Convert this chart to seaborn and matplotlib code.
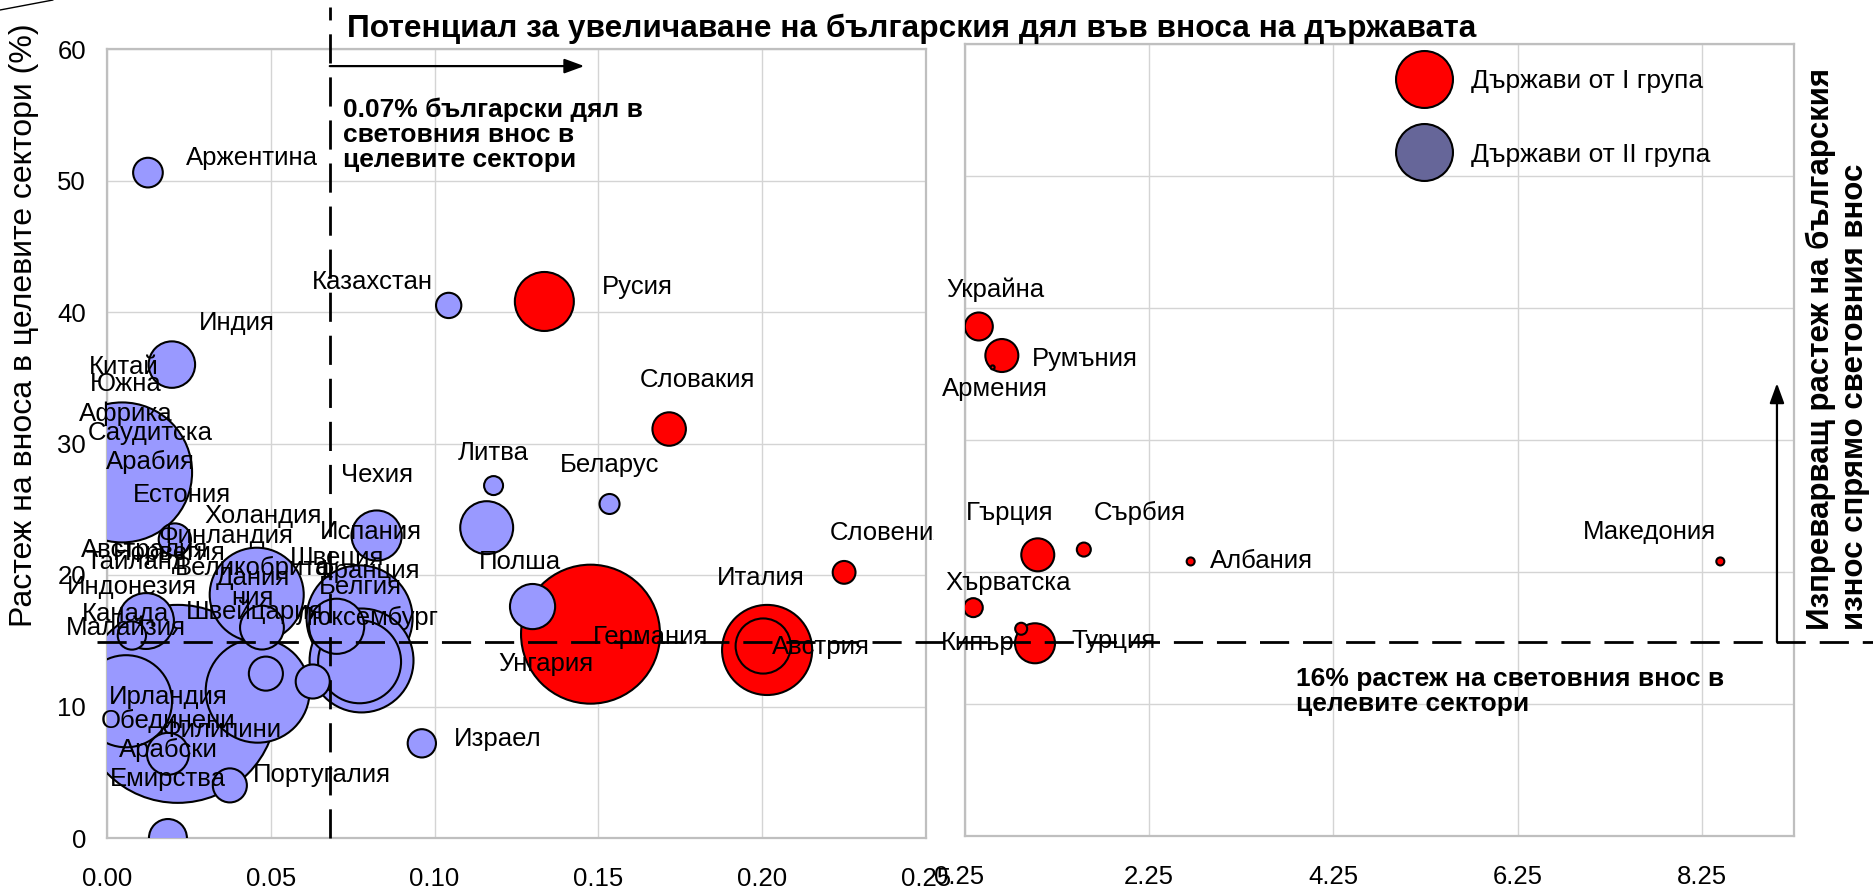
import matplotlib
matplotlib.use("Agg")
import matplotlib.pyplot as plt
from matplotlib.lines import Line2D
from matplotlib.transforms import (blended_transform_factory, Bbox, TransformedBbox,
                                   ScaledTranslation)
import pandas as pd
import seaborn as sns

# --- data: left panel (Bulgarian share 0-0.25 %) ---
left_names = ["Аржентина", "Казахстан", "Индия", "Саудитска Арабия", "Финландия",
              "Великобритания", "Канада", "Малайзия", "Швейцария",
              "Обединени Арабски Емирства", "Ирландия", "Филипини", "Португалия",
              "Южна Африка", "Холандия", "Дания", "Естония", "Белгия", "Франция",
              "Швеция", "Люксембург", "Испания", "Полша", "Литва", "Беларус",
              "Унгария", "Израел",
              "Русия", "Словакия", "Словения", "Германия", "Италия", "Австрия"]
left_share = [0.0125, 0.1043, 0.0198, 0.0046, 0.0207,
              0.0457, 0.0119, 0.0076, 0.0473,
              0.0216, 0.0058, 0.0186, 0.0375,
              0.0186, 0.0460, 0.0485, 0.0628, 0.0771, 0.0777,
              0.0771, 0.0701, 0.0823, 0.1159, 0.1180, 0.1534,
              0.1299, 0.0961,
              0.1335, 0.1716, 0.2250, 0.1476, 0.2015, 0.2003]
left_growth = [50.6, 40.5, 36.0, 27.8, 22.7,
               18.5, 16.5, 15.4, 16.0,
               10.2, 10.4, 6.4, 4.0,
               0.0, 11.2, 12.5, 11.9, 16.7, 13.5,
               13.4, 16.1, 23.0, 23.6, 26.8, 25.4,
               17.6, 7.2,
               40.8, 31.1, 20.2, 15.5, 14.3, 14.6]
left_volume = [2.2, 1.6, 5.4, 49.0, 2.6,
               22.1, 7.8, 2.0, 4.8,
               98.0, 21.2, 4.4, 2.9,
               3.6, 27.0, 2.9, 2.9, 28.1, 27.0,
               17.2, 7.6, 6.3, 7.0, 0.9, 1.0,
               5.1, 2.0,
               8.7, 2.8, 1.3, 48.3, 20.3, 7.6]
left_group = ["II"] * 27 + ["I"] * 6

# --- data: right panel (Bulgarian share above 0.25 %) ---
right_names = ["Украйна", "Румъния", "Армения", "Гърция", "Сърбия",
               "Албания", "Македония", "Хърватска", "Турция", "Кипър"]
right_share = [0.40, 0.65, 0.55, 1.04, 1.54, 2.70, 8.45, 0.34, 1.01, 0.86]
right_growth = [38.6, 36.4, 35.5, 21.3, 21.7, 20.8, 20.8, 17.3, 14.6, 15.7]
right_volume = [1.96, 2.72, 0.04, 2.72, 0.49, 0.16, 0.16, 0.90, 4.00, 0.36]
right_group = ["I"] * 10

world_share = 0.068
world_growth = 14.9

left_xticks = [0.00, 0.05, 0.10, 0.15, 0.20, 0.25]
right_xticks = [0.25, 2.25, 4.25, 6.25, 8.25]
yticks = [0, 10, 20, 30, 40, 50, 60]

# label anchors (layout only)
left_labels = [
    ("Аржентина", 0.0442, 51.7), ("Казахстан", 0.0811, 42.3), ("Русия", 0.1619, 41.9),
    ("Индия", 0.0396, 39.2), ("Китай", 0.0052, 35.8), ("Южна\nАфрика", 0.0058, 33.4),
    ("Саудитска\nАрабия", 0.0131, 29.7), ("Естония", 0.0229, 26.1),
    ("Холандия", 0.0476, 24.5), ("Финландия", 0.0363, 23.0),
    ("Австралия", 0.0116, 21.9), ("Норвегия", 0.0189, 21.7), ("Тайланд", 0.0091, 21.0),
    ("Великобрита\nния", 0.0445, 19.4), ("Дания", 0.0445, 19.8), ("Швеция", 0.0701, 21.3),
    ("Франция", 0.0793, 20.3), ("Белгия", 0.0774, 19.1), ("Индонезия", 0.0076, 19.1),
    ("Швейцария", 0.0451, 17.2), ("Люксембург", 0.0793, 16.7), ("Канада", 0.0055, 17.0),
    ("Малайзия", 0.0058, 16.0), ("Ирландия", 0.0186, 10.7),
    ("Обединени\nАрабски\nЕмирства", 0.0186, 6.7), ("Филипини", 0.0351, 8.2),
    ("Португалия", 0.0655, 4.8), ("Израел", 0.1192, 7.5), ("Чехия", 0.0823, 27.6),
    ("Испания", 0.0805, 23.3), ("Литва", 0.1180, 29.3), ("Беларус", 0.1534, 28.4),
    ("Полша", 0.1259, 21.0), ("Словакия", 0.1802, 34.8), ("Италия", 0.1997, 19.8),
    ("Германия", 0.1659, 15.3), ("Унгария", 0.1341, 13.2), ("Австрия", 0.2180, 14.5),
]
right_labels = [
    ("Украйна", 0.576, 41.4), ("Румъния", 1.554, 36.1), ("Армения", 0.576, 33.9),
    ("Гърция", 0.739, 24.5), ("Сърбия", 2.152, 24.5), ("Албания", 3.467, 20.8),
    ("Македония", 7.685, 23.0), ("Хърватска", 0.717, 19.2), ("Турция", 1.859, 14.8),
    ("Кипър", 0.391, 14.6),
]

PALETTE = {"I": "#ff0000", "II": "#9999ff"}
AREA_PER_UNIT = 207.36  # pt^2 per volume unit
GRID = "#d4d4d4"
EDGE = "#bfbfbf"
LABEL_FS = 18.5

sns.set_style("whitegrid")
plt.rcParams["font.family"] = ["Liberation Sans", "DejaVu Sans"]
plt.rcParams["text.color"] = "black"
plt.rcParams["xtick.color"] = "black"
plt.rcParams["ytick.color"] = "black"

W, H = 1873, 891
fig = plt.figure(figsize=(W / 100, H / 100), dpi=100)
ax1 = fig.add_axes([107 / W, 1 - 838 / H, (926 - 107) / W, (838 - 49) / H])
ax2 = fig.add_axes([965 / W, 1 - 836 / H, (1794 - 965) / W, (836 - 44) / H])


def style_axes(ax):
    for sp in ax.spines.values():
        sp.set_color(EDGE)
        sp.set_linewidth(1.6)
    ax.grid(True, color=GRID, linewidth=1.0)
    ax.set_axisbelow(True)
    ax.tick_params(length=0, labelsize=18.5, labelcolor="black")
    ax.tick_params(axis="x", pad=21)
    ax.tick_params(axis="y", pad=15)
    ax.set_xlabel("")
    ax.set_ylabel("")


df1 = pd.DataFrame({"share": left_share, "growth": left_growth,
                    "volume": left_volume, "group": left_group})
df1 = df1.sort_values("volume", ascending=False)
sns.scatterplot(data=df1, x="share", y="growth", size="volume",
                sizes=(0, AREA_PER_UNIT * max(left_volume)), size_norm=(0, max(left_volume)),
                hue="group", palette=PALETTE, edgecolor="black", linewidth=1.5,
                legend=False, ax=ax1, zorder=3)

df2 = pd.DataFrame({"share": right_share, "growth": right_growth,
                    "volume": right_volume, "group": right_group})
df2 = df2.sort_values("volume", ascending=False)
sns.scatterplot(data=df2, x="share", y="growth", size="volume",
                sizes=(0, AREA_PER_UNIT * max(right_volume)), size_norm=(0, max(right_volume)),
                hue="group", palette=PALETTE, edgecolor="black", linewidth=1.5,
                legend=False, ax=ax2, zorder=3)

ax1.set_xlim(0, 0.25)
ax1.set_ylim(0, 60)
ax1.set_xticks(left_xticks)
ax1.set_xticklabels([f"{v:.2f}" for v in left_xticks])
ax1.set_yticks(yticks)
ax1.set_yticklabels([str(v) for v in yticks])
style_axes(ax1)

ax2.set_xlim(0.25, 9.25)
ax2.set_ylim(0, 60)
ax2.set_xticks(right_xticks)
ax2.set_xticklabels([f"{v:.2f}" for v in right_xticks])
ax2.set_yticks(yticks)
style_axes(ax2)
ax2.tick_params(labelleft=False)
# first right-panel tick label sits slightly left, over the left panel's last label
first = ax2.get_xticklabels()[0]
first.set_transform(first.get_transform() + ScaledTranslation(-0.06, 0, fig.dpi_scale_trans))

for txt, x, y in left_labels:
    ax1.text(x, y, txt, ha="center", va="center", fontsize=LABEL_FS,
             linespacing=1.28, zorder=5)
t = ax1.text(0.2207, 23.2, "Словения", ha="left", va="center", fontsize=LABEL_FS,
             zorder=5, clip_on=True)
t.set_clip_path(None)
t.set_clip_box(TransformedBbox(Bbox([[0, 0], [934 / W, 1]]), fig.transFigure))

for txt, x, y in right_labels:
    ax2.text(x, y, txt, ha="center", va="center", fontsize=LABEL_FS, zorder=5)

# reference lines
dash = dict(color="black", linewidth=2.0, linestyle=(0, (10.5, 5)), zorder=6)
hline = Line2D([97 / W, 1.0], [world_growth, world_growth],
               transform=blended_transform_factory(fig.transFigure, ax1.transData), **dash)
vline = Line2D([world_share, world_share], [1 - 838 / H, 1 - 7 / H],
               transform=blended_transform_factory(ax1.transData, fig.transFigure), **dash)
fig.add_artist(hline)
fig.add_artist(vline)
fig.add_artist(Line2D([0, 53 / W], [1 - 10 / H, 1.0], color="black", linewidth=1.0))

arrow = dict(arrowstyle="-|>,head_length=0.6,head_width=0.22", color="black",
             lw=1.6, mutation_scale=20, shrinkA=0, shrinkB=0)
ax1.annotate("", xy=(0.1457, 58.7), xytext=(world_share, 58.7),
             arrowprops=arrow, annotation_clip=False)
ax2.annotate("", xy=(9.065, 34.3), xytext=(9.065, 14.7),
             arrowprops=arrow, annotation_clip=False)

# legend
handles = [Line2D([], [], marker="o", linestyle="none", markersize=41,
                  markerfacecolor=c, markeredgecolor="black", markeredgewidth=1.5)
           for c in ["#ff0000", "#666699"]]
ax2.legend(handles, ["Държави от I група", "Държави от II група"],
           loc="upper left", bbox_to_anchor=((1397.6 - 965) / 829, (836 - 69) / 792),
           frameon=False, fontsize=19, labelspacing=1.88, handlelength=2.0,
           handletextpad=0.78, borderpad=0, borderaxespad=0)

# texts
fig.text(347 / W, 1 - 37 / H, "Потенциал за увеличаване на българския дял във вноса на държавата",
         fontsize=22.8, fontweight="bold", ha="left", va="baseline")
fig.text(343 / W, 1 - 135 / H, "0.07% български дял в\nсветовния внос в\nцелевите сектори",
         fontsize=19, fontweight="bold", ha="left", va="center", linespacing=1.06)
fig.text(1296 / W, 1 - 691.5 / H, "16% растеж на световния внос в\nцелевите сектори",
         fontsize=19, fontweight="bold", ha="left", va="center", linespacing=1.1)
fig.text(24 / W, 1 - 325 / H, "Растеж на вноса в целевите сектори (%)",
         fontsize=23, rotation=90, ha="center", va="center")
fig.text(1838 / W, 1 - 630 / H, "Изпреварващ растеж на българския\nизнос спрямо световния внос",
         fontsize=22.5, fontweight="bold", rotation=90, ha="center", va="bottom",
         multialignment="left", linespacing=1.15)

fig.savefig("out.png", dpi=100)
